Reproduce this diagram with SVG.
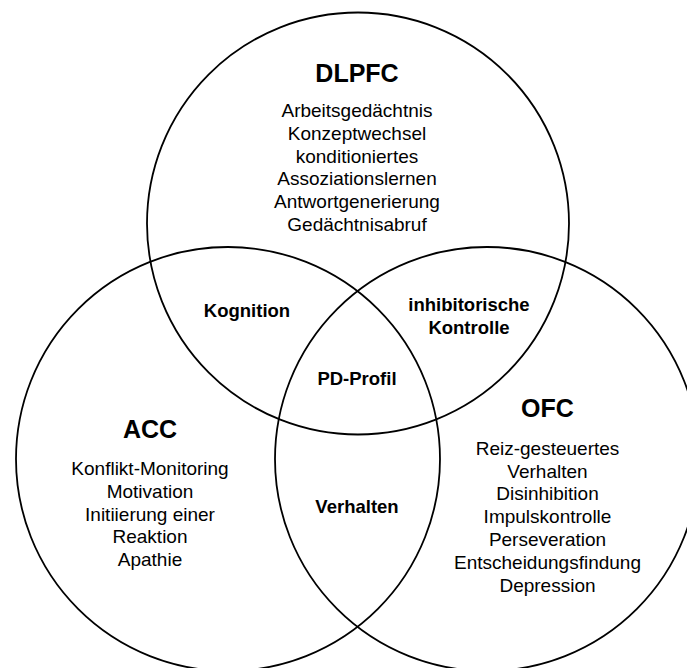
<svg xmlns="http://www.w3.org/2000/svg" width="687" height="668" viewBox="0 0 687 668">
  <style>
    .ring { fill: none; stroke: #000; stroke-width: 1.8; }
    text { font-family: "Liberation Sans", Arial, sans-serif; fill: #000; text-anchor: middle; }
    .title { font-size: 25px; font-weight: bold; }
    .item { font-size: 19px; }
    .overlap { font-size: 18.5px; font-weight: bold; }
  </style>
  <rect width="687" height="668" fill="#fff"/>

  <!-- three overlapping regions -->
  <g id="dlpfc">
    <circle class="ring" cx="358" cy="223.5" r="211"/>
    <text class="title" x="357" y="82">DLPFC</text>
    <text class="item" x="357" y="117">Arbeitsgedächtnis</text>
    <text class="item" x="357" y="140">Konzeptwechsel</text>
    <text class="item" x="357" y="162.5">konditioniertes</text>
    <text class="item" x="357" y="185">Assoziationslernen</text>
    <text class="item" x="357" y="208">Antwortgenerierung</text>
    <text class="item" x="357" y="230.5">Gedächtnisabruf</text>
  </g>

  <g id="acc">
    <circle class="ring" cx="228" cy="459" r="212"/>
    <text class="title" x="150" y="438">ACC</text>
    <text class="item" x="150" y="475">Konflikt-Monitoring</text>
    <text class="item" x="150" y="497.5">Motivation</text>
    <text class="item" x="150" y="520.5">Initiierung einer</text>
    <text class="item" x="150" y="543">Reaktion</text>
    <text class="item" x="150" y="566">Apathie</text>
  </g>

  <g id="ofc">
    <circle class="ring" cx="487" cy="459" r="212"/>
    <text class="title" x="547.5" y="417">OFC</text>
    <text class="item" x="547.5" y="455">Reiz-gesteuertes</text>
    <text class="item" x="547.5" y="477.5">Verhalten</text>
    <text class="item" x="547.5" y="500">Disinhibition</text>
    <text class="item" x="547.5" y="523">Impulskontrolle</text>
    <text class="item" x="547.5" y="546">Perseveration</text>
    <text class="item" x="547.5" y="569">Entscheidungsfindung</text>
    <text class="item" x="547.5" y="592">Depression</text>
  </g>

  <!-- overlap labels -->
  <g id="kognition">
    <text class="overlap" x="247" y="317">Kognition</text>
  </g>
  <g id="inhibitorische-kontrolle">
    <text class="overlap" x="469" y="310.5">inhibitorische</text>
    <text class="overlap" x="469" y="333.5">Kontrolle</text>
  </g>
  <g id="pd-profil">
    <text class="overlap" x="357" y="385">PD-Profil</text>
  </g>
  <g id="verhalten">
    <text class="overlap" x="357" y="512.5">Verhalten</text>
  </g>

  <g id="connectors"/>
</svg>
